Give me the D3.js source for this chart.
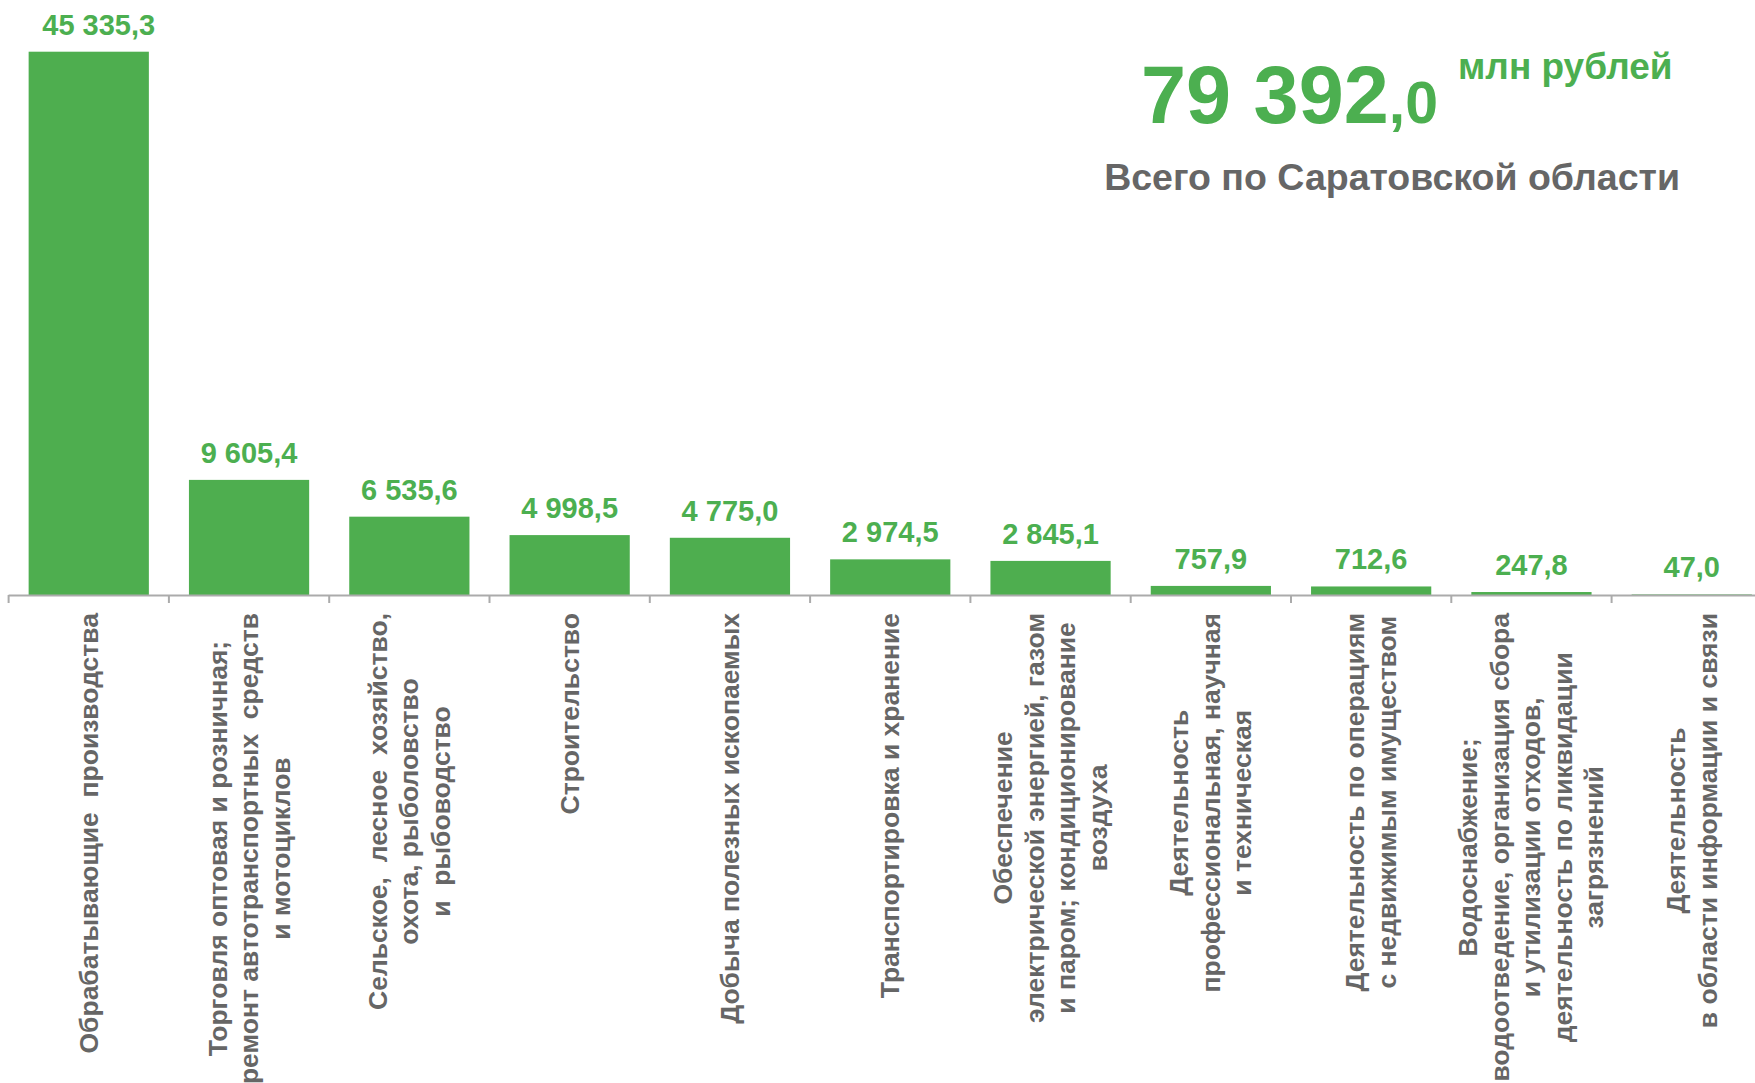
<!DOCTYPE html>
<html>
<head>
<meta charset="utf-8">
<script src="https://cdn.jsdelivr.net/npm/d3@7"></script>
<style>
  html, body { margin: 0; padding: 0; background: #fff; overflow: hidden; }
  svg { display: block; font-family: "Liberation Sans", Arial, sans-serif; }
</style>
</head>
<body>
<svg id="chart" width="1755" height="1083"></svg>
<script>
// ---- data ----
const categories = [
  ["Обрабатывающие  производства"],
  ["Торговля оптовая и розничная;", "ремонт автотранспортных  средств", "и мотоциклов"],
  ["Сельское,  лесное  хозяйство,", "охота, рыболовство", "и  рыбоводство"],
  ["Строительство"],
  ["Добыча полезных ископаемых"],
  ["Транспортировка и хранение"],
  ["Обеспечение", "электрической энергией, газом", "и паром; кондиционирование", "воздуха"],
  ["Деятельность", "профессиональная, научная", "и техническая"],
  ["Деятельность по операциям", "с недвижимым имуществом"],
  ["Водоснабжение;", "водоотведение, организация сбора", "и утилизации отходов,", "деятельность по ликвидации", "загрязнений"],
  ["Деятельность", "в области информации и связи"]
];
const values = [45335.3, 9605.4, 6535.6, 4998.5, 4775.0, 2974.5, 2845.1, 757.9, 712.6, 247.8, 47.0];
const totalValue = [79392.0];
const totalUnit = ["млн рублей"];
const totalCaption = ["Всего по Саратовской области"];

// ---- setup ----
const svg = d3.select("#chart");
const green = "#4EAE4F";
const textGreen = "#4CAF50";
const gray = "#666666";

const loc = d3.formatLocale({decimal: ",", thousands: " ", grouping: [3], currency: ["", ""]});
const fmt = loc.format(",.1f");

const ids = d3.range(categories.length);
const step = 160.3;
const x0 = 8.6;
const x = d3.scaleBand()
  .domain(ids)
  .range([x0, x0 + step * ids.length])
  .paddingInner(0.25)
  .paddingOuter(0.125);

const baseY = 595;
const y = d3.scaleLinear()
  .domain([0, 45335.3])
  .range([baseY, 51.7]);

// bars
svg.append("g").selectAll("rect")
  .data(ids)
  .join("rect")
  .attr("x", i => x(i))
  .attr("width", x.bandwidth())
  .attr("y", i => y(values[i]))
  .attr("height", i => baseY - y(values[i]))
  .attr("fill", green);

// axis: domain line + ticks at category boundaries
const boundaries = ids.map(i => x(i) - x.step() * x.paddingInner() / 2);
const axisG = svg.append("g");
axisG.append("line")
  .attr("x1", x0).attr("x2", 1755)
  .attr("y1", baseY + 0.5).attr("y2", baseY + 0.5)
  .attr("stroke", "#ababab").attr("stroke-width", 2);
axisG.selectAll("line.tick")
  .data(boundaries)
  .join("line")
  .attr("class", "tick")
  .attr("x1", d => d).attr("x2", d => d)
  .attr("y1", baseY).attr("y2", baseY + 8)
  .attr("stroke", "#ababab").attr("stroke-width", 2);

// value labels
svg.append("g").selectAll("text")
  .data(ids)
  .join("text")
  .attr("x", i => x(i) + x.bandwidth() / 2 + (i === 0 ? 10 : 0))
  .attr("y", i => y(values[i]) - 17)
  .attr("text-anchor", "middle")
  .attr("font-size", 29)
  .attr("font-weight", "bold")
  .attr("fill", textGreen)
  .text(i => fmt(values[i]));

// category labels (rotated)
const lineH = 31.5;
const labelTop = 613;
const lg = svg.append("g")
  .attr("font-size", 26.5)
  .attr("font-weight", "bold")
  .attr("fill", gray);
ids.forEach(i => {
  const lines = categories[i];
  const cx = x(i) + x.bandwidth() / 2;
  const tmp = lg.append("text").style("white-space", "pre");
  let maxLen = 0;
  lines.forEach(l => { tmp.text(l); maxLen = Math.max(maxLen, tmp.node().getComputedTextLength()); });
  tmp.remove();
  const cy = labelTop + maxLen / 2;
  const t = lg.append("text")
    .attr("transform", `translate(${cx},${cy}) rotate(-90)`)
    .attr("text-anchor", "middle")
    .style("white-space", "pre");
  const n = lines.length;
  lines.forEach((l, k) => {
    t.append("tspan")
      .attr("x", 0)
      .attr("y", (k - (n - 1) / 2) * lineH + 9)
      .text(l);
  });
});

// total block
const tot = svg.append("text")
  .attr("x", 1141)
  .attr("y", 123)
  .attr("font-weight", "bold")
  .attr("fill", textGreen);
const parts = fmt(totalValue[0]).split(",");
tot.append("tspan").attr("font-size", 81).text(parts[0]);
tot.append("tspan").attr("font-size", 59).text("," + parts[1]);

svg.append("text")
  .attr("x", 1458)
  .attr("y", 79)
  .attr("font-size", 37)
  .attr("font-weight", "bold")
  .attr("fill", textGreen)
  .text(totalUnit[0]);

svg.append("text")
  .attr("x", 1680)
  .attr("y", 190)
  .attr("text-anchor", "end")
  .attr("font-size", 37.5)
  .attr("font-weight", "bold")
  .attr("fill", gray)
  .text(totalCaption[0]);
</script>
</body>
</html>
